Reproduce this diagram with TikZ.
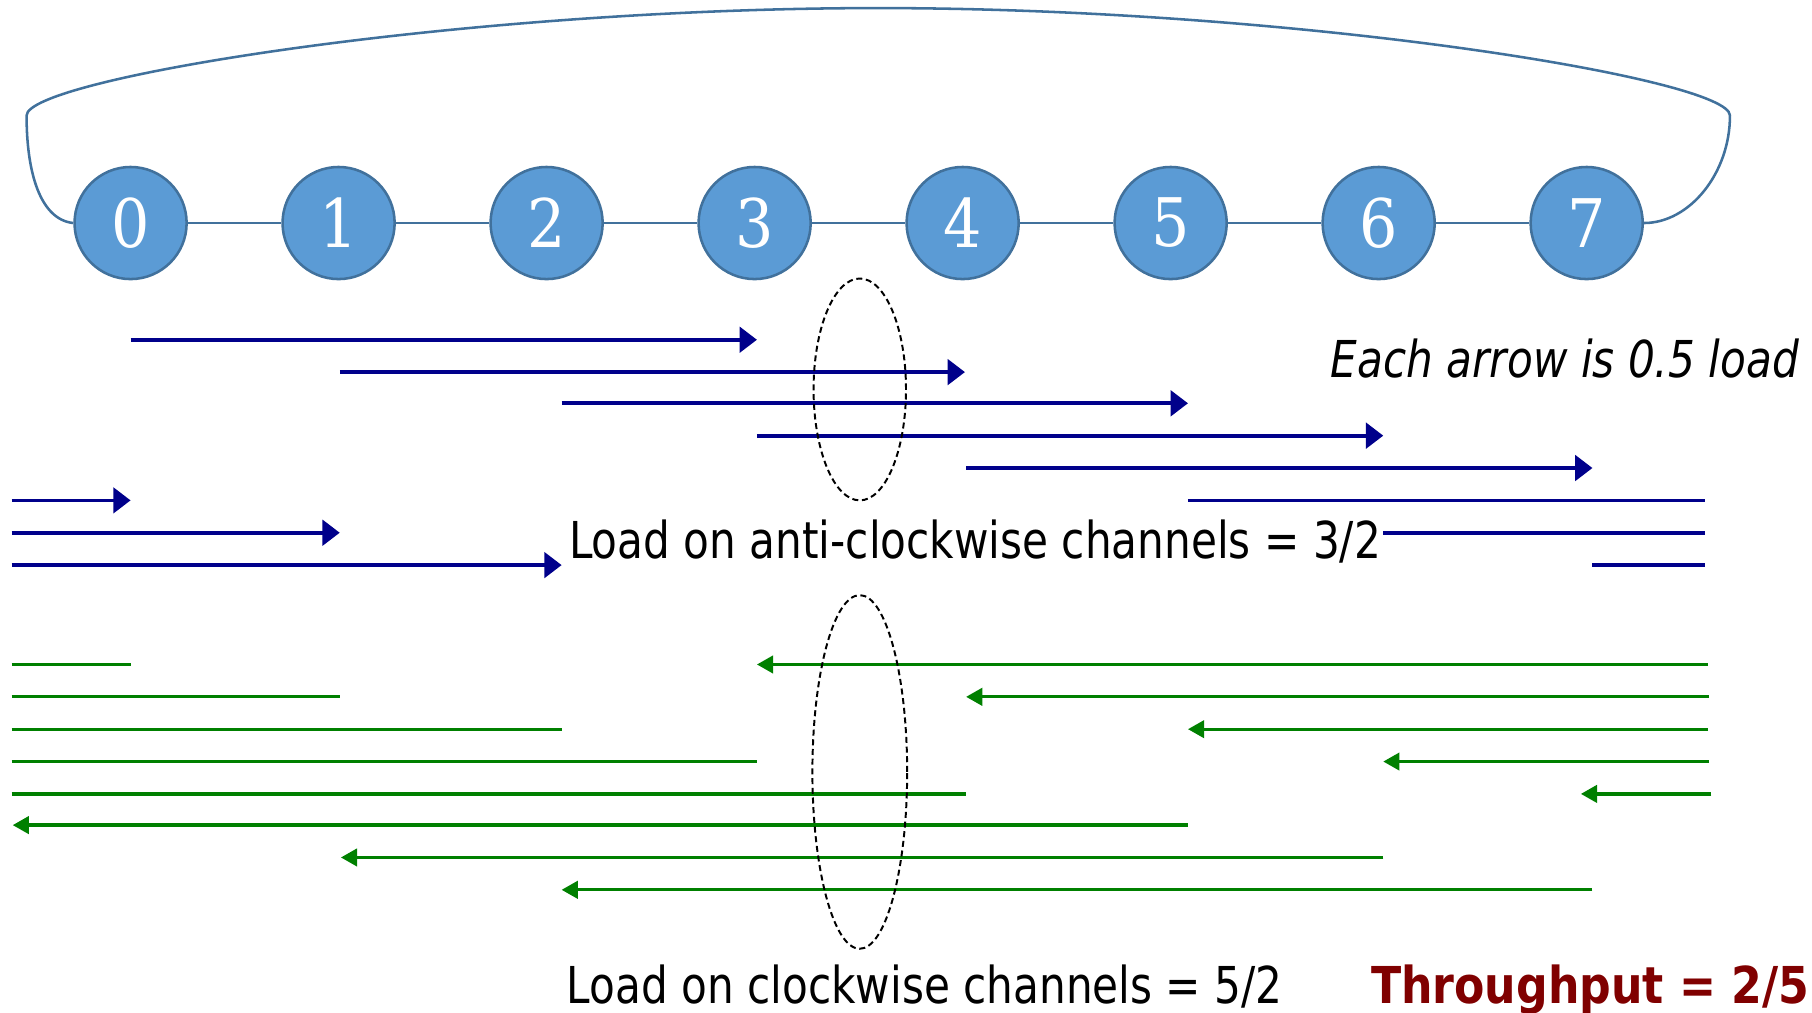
\documentclass[tikz,border=0pt]{standalone}
\usepackage{fontspec}
\setmainfont{DejaVu Sans}[FakeStretch=0.83]
\newfontfamily\boldfont{DejaVu Sans Bold}[FakeStretch=0.87]
\newfontfamily\numfont{DejaVu Serif}[FakeStretch=0.9]
\usetikzlibrary{arrows.meta}
\definecolor{ringfill}{HTML}{5B9BD5}
\definecolor{ringedge}{HTML}{41719C}
\definecolor{acw}{RGB}{0,0,139}
\definecolor{cw}{RGB}{0,128,0}
\definecolor{tput}{RGB}{128,0,0}
\tikzset{
  ringnode/.style={circle, fill=ringfill, draw=ringedge, line width=1.1pt,
    minimum size=48.5pt, inner sep=0pt, text=white,
    font=\numfont\fontsize{29}{30}\selectfont},
  ringline/.style={draw=ringedge, line width=1.1pt},
  acwarrow/.style={draw=acw, line width=1.6pt, -{Triangle[length=7.5pt,width=11pt]}},
  acwline/.style={draw=acw, line width=1.6pt},
  cwarrow/.style={draw=cw, line width=1.4pt, -{Triangle[length=7pt,width=7.5pt]}},
  cwline/.style={draw=cw, line width=1.4pt},
  cut/.style={draw=black, line width=0.85pt, dash pattern=on 2.6pt off 1.6pt},
  label/.style={inner sep=0pt, font=\fontsize{22}{26}\selectfont}
}
\begin{document}
\begin{tikzpicture}[x=0.5pt, y=-0.5pt]
\useasboundingbox (0,0) rectangle (1568,876);

% ring of eight nodes
\foreach \i in {0,...,7}
  \node[ringnode] (n\i) at ({113+180*\i},193) {\i};
\foreach \i [evaluate=\i as \j using int(\i+1)] in {0,...,6}
  \draw[ringline] (n\i) -- (n\j);

% wrap-around link from node 7 back to node 0
\coordinate (lc) at (23,100);
\coordinate (top) at (760,7);
\coordinate (rc) at (1497,100);
\draw[ringline] (n0.west) .. controls (35,190) and (23,150) .. (lc)
  .. controls (23,68) and (400,7) .. (top)
  .. controls (1120,7) and (1497,68) .. (rc)
  .. controls (1497,150) and (1462,193) .. (n7.east);

% anti-clockwise routes (rightward)
\foreach \xa/\xb/\y [count=\k] in {113/655/294, 294/835/322, 486/1028/349,
    655/1197/377, 836/1378/405, 10/113/433, 10/294/461, 10/486/489} {
  \coordinate (as\k) at (\xa,\y);
  \coordinate (ae\k) at (\xb,\y);
  \draw[acwarrow] (as\k) -- (ae\k);
}
\foreach \xa/\xb/\y [count=\k] in {1028/1475/433, 1197/1475/461, 1378/1475/489} {
  \coordinate (bs\k) at (\xa,\y);
  \coordinate (be\k) at (\xb,\y);
  \draw[acwline] (bs\k) -- (be\k);
}

% clockwise routes (leftward)
\foreach \xa/\xb/\y [count=\k] in {1478/655/575, 1479/836/603, 1478/1028/631,
    1479/1197/659, 1481/1368/687, 1028/11/714, 1197/295/742, 1378/486/770} {
  \coordinate (cs\k) at (\xa,\y);
  \coordinate (ce\k) at (\xb,\y);
  \draw[cwarrow] (cs\k) -- (ce\k);
}
\foreach \xa/\xb/\y [count=\k] in {10/113/575, 10/294/603, 10/486/631,
    10/655/659, 10/836/687} {
  \coordinate (ds\k) at (\xa,\y);
  \coordinate (de\k) at (\xb,\y);
  \draw[cwline] (ds\k) -- (de\k);
}

% cuts through the channels between nodes 3 and 4
\draw[cut] (744,337) ellipse [x radius=20pt, y radius=48pt];
\draw[cut] (744,668) ellipse [x radius=20.5pt, y radius=76.5pt];

% captions
\node[label, anchor=base east] (note) at (1557,327) {\itshape Each arrow is 0.5 load};
\node[label, anchor=base west] (acwload) at (492,483) {Load on anti-clockwise channels = 3/2};
\node[label, anchor=base west] (cwload) at (490,868) {Load on clockwise channels = 5/2};
\node[label, anchor=base west, text=tput] (thr) at (1186,868) {\boldfont Throughput = 2/5};
\end{tikzpicture}
\end{document}
